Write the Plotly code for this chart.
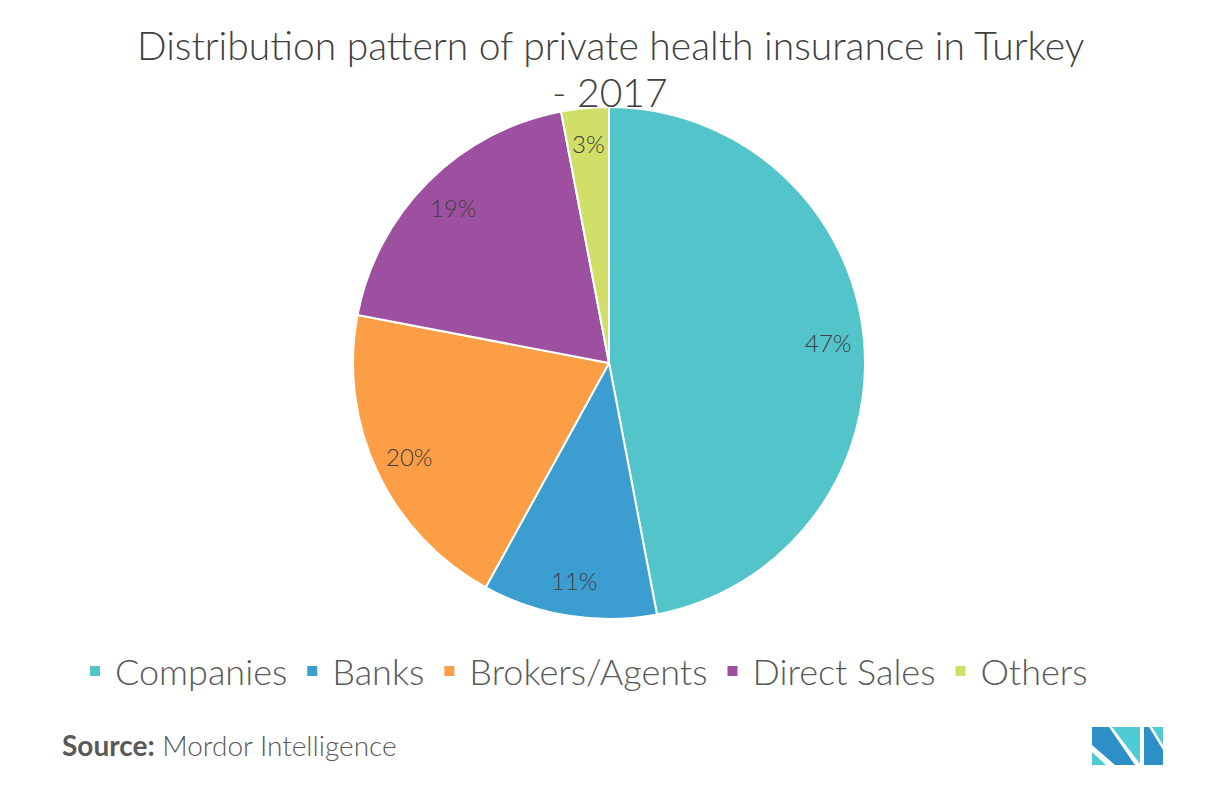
import math
import plotly.graph_objects as go

categories = ["Companies", "Banks", "Brokers/Agents", "Direct Sales", "Others"]
shares = [47, 11, 20, 19, 3]
colors = ["#52C4CA", "#3C9ED0", "#FC9E45", "#9C509F", "#D0DF67"]
title_lines = ["Distribution pattern of private health insurance in Turkey", "- 2017"]

W, H = 1218, 787
OFF = 8  # page body margin in the browser


def px(x):
    return (x - OFF) / W


def py(y):
    return 1 - (y - OFF) / H


PIE_TOP, PIE_BOTTOM = 107, 619
CX = 609
CY = (PIE_TOP + PIE_BOTTOM) / 2
R = (PIE_BOTTOM - PIE_TOP) / 2

fig = go.Figure(go.Pie(
    labels=categories,
    values=shares,
    sort=False,
    direction="clockwise",
    rotation=0,
    marker=dict(colors=colors, line=dict(color="white", width=2)),
    textinfo="none",
    domain=dict(x=[px(CX) - 0.4, px(CX) + 0.4], y=[py(PIE_BOTTOM), py(PIE_TOP)]),
    hoverinfo="label+percent",
))

# percentage labels placed towards the outer part of each slice
annotations = []
total = sum(shares)
cum = 0
for v in shares:
    theta = 2 * math.pi * (cum + v / 2) / total
    cum += v
    rr = 0.86 * R
    lx = CX + rr * math.sin(theta)
    ly = CY - rr * math.cos(theta)
    annotations.append(dict(
        text=f"{v}%", x=px(lx), y=py(ly), xref="paper", yref="paper",
        xanchor="center", yanchor="middle", showarrow=False,
        font=dict(family="Lato", size=24, color="#404040", weight=300),
    ))

for line, yc in zip(title_lines, [45, 92]):
    annotations.append(dict(
        text=line,
        x=px(610), xref="paper", xanchor="center",
        y=py(yc), yref="paper", yanchor="middle",
        showarrow=False,
        font=dict(family="Lato", size=39, color="#404040", weight=300),
    ))

annotations.append(dict(
    text="<b>Source:</b> Mordor Intelligence",
    x=px(60), xref="paper", xanchor="left",
    y=py(745), yref="paper", yanchor="middle",
    showarrow=False,
    font=dict(family="Lato", size=28, color="#595959", weight=300),
))


def path(pts):
    return "M " + " L ".join(f"{px(x)},{py(y)}" for x, y in pts) + " Z"


logo_dark = "#2E8FC6"
logo_light = "#4FCBD3"
shapes = [
    dict(type="path", path=path([(1092, 752), (1092, 765), (1106, 765)]), fillcolor=logo_light, line_width=0),
    dict(type="path", path=path([(1092, 727), (1109, 727), (1135, 765), (1115, 765), (1092, 745)]), fillcolor=logo_dark, line_width=0),
    dict(type="path", path=path([(1112, 727), (1140, 727), (1140, 764)]), fillcolor=logo_light, line_width=0),
    dict(type="path", path=path([(1144, 727), (1149, 727), (1163, 750), (1163, 765), (1144, 765)]), fillcolor=logo_dark, line_width=0),
    dict(type="path", path=path([(1152, 727), (1163, 727), (1163, 745)]), fillcolor=logo_light, line_width=0),
]
for s in shapes:
    s.update(xref="paper", yref="paper", layer="above")

fig.update_layout(
    width=W, height=H,
    margin=dict(l=0, r=0, t=0, b=0),
    paper_bgcolor="white",
    plot_bgcolor="white",
    font=dict(family="Lato", color="#595959"),
    showlegend=True,
    legend=dict(
        orientation="h",
        x=px(584), xanchor="center",
        y=py(671), yanchor="middle",
        font=dict(family="Lato", size=36, color="#595959", weight=300),
        itemwidth=30,
        traceorder="normal",
    ),
    shapes=shapes,
    annotations=annotations,
)

fig.write_html("out.html")
